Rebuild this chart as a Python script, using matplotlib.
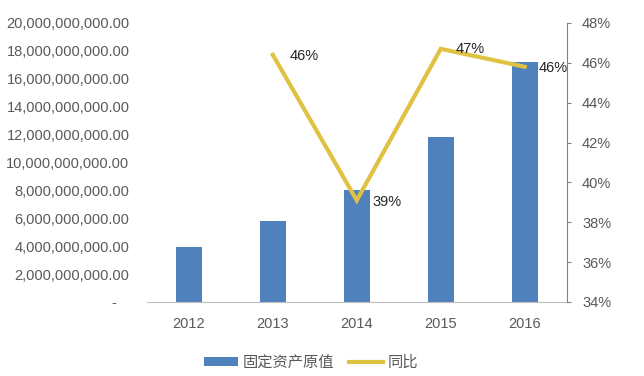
import matplotlib
matplotlib.use("Agg")
import matplotlib.pyplot as plt
from matplotlib.ticker import FuncFormatter
from matplotlib.patches import Patch
from matplotlib.lines import Line2D

plt.rcParams['font.family'] = ['Liberation Sans', 'Noto Sans CJK SC', 'DejaVu Sans']

years = ['2012', '2013', '2014', '2015', '2016']
asset_values = [3.94e9, 5.8e9, 8.03e9, 11.83e9, 17.2e9]
yoy_years = ['2013', '2014', '2015', '2016']
yoy_pct = [46.4, 39.1, 46.7, 45.8]
yoy_labels = ['46%', '39%', '47%', '46%']

bar_color = '#4F81BD'
line_color = '#E0C242'
text_color = '#595959'

fig = plt.figure(figsize=(6.44, 3.76), dpi=100)
ax = fig.add_axes([0.228, 0.197, 0.652, 0.742])
x = list(range(len(years)))
ax.bar(x, asset_values, width=0.31, color=bar_color, zorder=2)
ax.set_xlim(-0.5, len(years) - 0.5)
ax.set_ylim(0, 20e9)
ax.set_yticks([i * 2e9 for i in range(11)])

def fmt_left(v, pos):
    if v == 0:
        return '-   '
    return f'{v:,.2f}'

ax.yaxis.set_major_formatter(FuncFormatter(fmt_left))
ax.set_xticks(x)
ax.set_xticklabels(years)
for s in ['top', 'right', 'left']:
    ax.spines[s].set_visible(False)
ax.spines['bottom'].set_color('#BFBFBF')
ax.tick_params(axis='y', length=0, pad=12.5, labelsize=10.5, colors=text_color)
ax.tick_params(axis='x', length=0, pad=11, labelsize=10.5, colors=text_color)

ax2 = ax.twinx()
xi = [years.index(y) for y in yoy_years]
ax2.plot(xi, yoy_pct, color=line_color, lw=3, zorder=3, solid_joinstyle='miter')
ax2.set_ylim(34, 48)
ax2.set_yticks(list(range(34, 49, 2)))
ax2.yaxis.set_major_formatter(FuncFormatter(lambda v, p: f'{v:.0f}%'))
for s in ['top', 'left', 'bottom']:
    ax2.spines[s].set_visible(False)
ax2.spines['right'].set_color('#808080')
ax2.tick_params(axis='y', length=3, width=0.8, color='#808080', pad=8,
                labelsize=10.5, colors=text_color)

offsets = [(12, -1), (11, -1), (11, 0), (10, -1)]
for xv, yv, lab, (dx, dy) in zip(xi, yoy_pct, yoy_labels, offsets):
    ax2.annotate(lab, (xv, yv), xytext=(dx, dy), textcoords='offset points',
                 ha='left', va='center', fontsize=10.5, color='#262626')

handles = [Patch(facecolor=bar_color, edgecolor='none'),
           Line2D([0], [0], color=line_color, lw=3)]
leg = fig.legend(handles, ['固定资产原值', '同比'], loc='center',
                 bbox_to_anchor=(0.483, 0.037), ncol=2, frameon=False,
                 fontsize=11, handlelength=2.2, handleheight=0.55,
                 columnspacing=1.0, handletextpad=0.3)
for t in leg.get_texts():
    t.set_color(text_color)
    t.set_fontfamily(['Noto Sans CJK SC', 'DejaVu Sans'])

fig.savefig('out.png', dpi=100)
